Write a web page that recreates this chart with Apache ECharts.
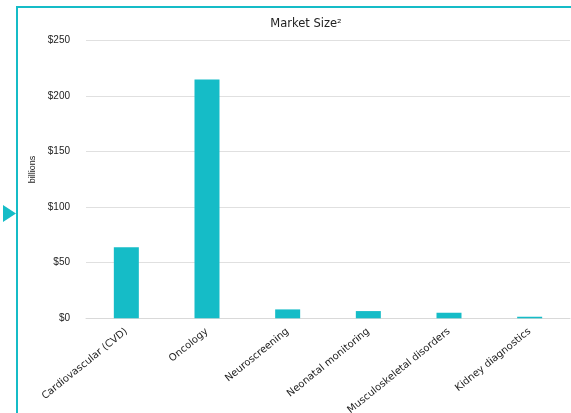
<!DOCTYPE html>
<html><head><meta charset="utf-8">
<script src="https://cdn.jsdelivr.net/npm/echarts@6/dist/echarts.min.js"></script>
<style>html,body{margin:0;padding:0;background:#fff}#c{width:571px;height:413px}</style>
</head><body><div id="c"></div>
<script>
const categories = ["Cardiovascular (CVD)", "Oncology", "Neuroscreening", "Neonatal monitoring", "Musculoskeletal disorders", "Kidney diagnostics"];
const marketSize = [64, 215, 8, 6.5, 5, 1.4];
const yTicks = [0, 50, 100, 150, 200, 250];

const chart = echarts.init(document.getElementById('c'), null, {renderer: 'canvas'});
const teal = '#15BCC7';
chart.setOption({
  animation: false,
  textStyle: {fontFamily: 'Liberation Sans'},
  title: {
    text: 'Market Size\u00B2', left: 301, top: 13, textAlign: 'center',
    textStyle: {fontSize: 11.5, fontWeight: 'normal', color: '#222', fontFamily: 'DejaVu Sans'}
  },
  grid: {left: 86, right: 1, top: 40.5, bottom: 94.7, containLabel: false, outerBoundsMode: 'none'},
  xAxis: {
    type: 'category', data: categories,
    axisLine: {show: true, lineStyle: {color: '#d9d9d9'}},
    axisTick: {show: false},
    axisLabel: {rotate: 39, fontSize: 10, color: '#222', margin: 12, interval: 0, fontFamily: 'DejaVu Sans'}
  },
  yAxis: {
    type: 'value', min: yTicks[0], max: yTicks[yTicks.length - 1], interval: 50,
    name: 'billions', nameLocation: 'middle', nameGap: 49, nameRotate: 90,
    nameTextStyle: {fontSize: 9, color: '#222', padding: [0, 0, 0, 20]},
    axisLine: {show: false}, axisTick: {show: false},
    axisLabel: {formatter: v => '$' + v, fontSize: 10, color: '#222', margin: 16},
    splitLine: {lineStyle: {color: '#e0e0e0'}}
  },
  series: [{
    type: 'bar', data: marketSize, barWidth: 25,
    itemStyle: {color: teal}
  }],
  graphic: [
    {type: 'rect', shape: {x: 16, y: 6, width: 555, height: 2}, style: {fill: teal}},
    {type: 'rect', shape: {x: 16, y: 6, width: 2, height: 407}, style: {fill: teal}},
    {type: 'polygon', shape: {points: [[3, 205], [16, 213.5], [3, 222]]}, style: {fill: teal}}
  ]
});
</script></body></html>
